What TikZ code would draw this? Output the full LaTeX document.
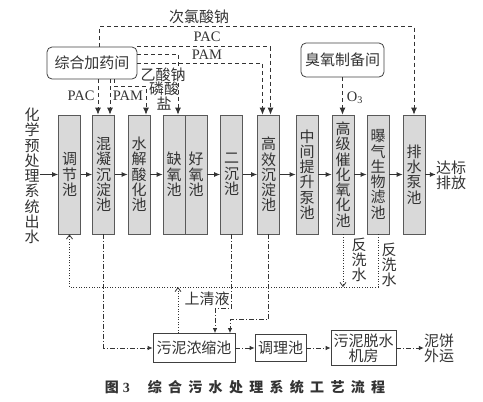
\documentclass[tikz,border=0pt]{standalone}
\usepackage{fontspec}
\setmainfont{Liberation Serif}
\newfontfamily\cjk{Noto Sans CJK SC}
\newfontfamily\capcjk{Noto Sans CJK SC}[LetterSpace=45]
\usetikzlibrary{arrows.meta}
\colorlet{ink}{black!80}

\begin{document}
\begin{tikzpicture}[x=1pt, y=-1pt,
  font=\cjk\fontsize{15}{15.3}\selectfont, >=Latex,
  every node/.style={text=ink},
  tank/.style={draw=black!65, fill=black!15, line width=0.8pt, inner sep=0pt,
               minimum width=22pt, minimum height=119pt, align=center},
  room/.style={draw=black!75, line width=0.8pt, rounded corners=5pt, inner sep=0pt,
               align=center},
  sbox/.style={draw=black!75, line width=0.8pt, inner sep=0pt, align=center},
  lbl/.style={inner sep=0pt, align=center},
  latin/.style={font=\rmfamily\fontsize{14.5}{15}\selectfont},
  flow/.style={draw=ink, line width=0.8pt, -{Latex[length=6pt,width=5pt]}},
  chem/.style={draw=ink, line width=0.8pt, dash pattern=on 4pt off 3pt,
               -{Latex[length=7pt,width=6pt]}},
  ret/.style={draw=ink, line width=0.8pt, dash pattern=on 1pt off 1.6pt},
  rettip/.style={-{Straight Barb[length=4pt,width=6pt]}},
  sludge/.style={draw=ink, line width=0.8pt, dash pattern=on 5pt off 2pt on 1pt off 2pt,
                 -{Latex[length=5pt,width=4.5pt]}}]
\useasboundingbox (0,0) rectangle (483,402);

% main line
\node[lbl] (feed) at (32,176) {化\\学\\预\\处\\理\\系\\统\\出\\水};
\node[tank] (t1) at (69.5,174.5) {调\\节\\池};
\node[tank] (t2) at (103.5,174.5) {混\\凝\\沉\\淀\\池};
\node[tank] (t3) at (139,174.5) {水\\解\\酸\\化\\池};
\node[tank] (t4) at (174,174.5) {缺\\氧\\池};
\node[tank] (t5) at (196,174.5) {好\\氧\\池};
\node[tank] (t6) at (231.5,174.5) {二\\沉\\池};
\node[tank] (t7) at (268.5,174.5) {高\\效\\沉\\淀\\池};
\node[tank] (t8) at (307,174.5) {中\\间\\提\\升\\泵\\池};
\node[tank] (t9) at (343,174.5) {高\\级\\催\\化\\氧\\化\\池};
\node[tank] (t10) at (378,174.5) {曝\\气\\生\\物\\滤\\池};
\node[tank] (t11) at (414,174.5) {排\\水\\泵\\池};
\node[lbl] (out) at (451,175) {达标\\排放};

\draw[flow] (feed.east |- t1.west) -- (t1.west);
\foreach \a/\b in {t1/t2,t2/t3,t3/t4,t5/t6,t6/t7,t7/t8,t8/t9,t9/t10,t10/t11}
  \draw[flow] (\a.east) -- (\b.west);
\draw[flow] (t11.east) -- (out.west |- t11.east);

% dosing
\node[room, minimum width=90pt, minimum height=32pt] (dose) at (92,63) {综合加药间};
\node[room, minimum width=83pt, minimum height=34pt] (ozone) at (342.5,60) {臭氧制备间};

\draw[chem] ([xshift=7pt]dose.north) -- ++(0,-20) -| (t11.north);
\draw[chem] (dose.north east) -| ([xshift=2pt]t7.north);
\draw[chem] (dose.east) -| ([xshift=-6pt]t7.north);
\draw[chem] ([yshift=9pt]dose.east) -| ([xshift=4pt]t4.north);
\draw[chem] ([xshift=-5.5pt]t2.north |- dose.south) -- ([xshift=-5.5pt]t2.north);
\draw[chem] ([xshift=6.5pt]t2.north |- dose.south) -- ([xshift=6.5pt]t2.north);
\draw[chem] ([xshift=22pt]dose.south) -- ++(0,7) -| ([xshift=7pt]t3.north);
\draw[chem] (ozone.south) -- (ozone.south |- t9.north);

\node[lbl] (naclo) at (199,17) {次氯酸钠};
\node[lbl, latin] (pac1) at (207,37) {PAC};
\node[lbl, latin] (pam1) at (207,55) {PAM};
\node[lbl, latin] (pac2) at (81,96) {PAC};
\node[lbl, latin] (pam2) at (128,96) {PAM};
\node[lbl, fill=white, inner sep=1pt] (naac) at (163,75) {乙酸钠};
\node[lbl] (phos) at (164,96) {磷酸\\盐};
\node[lbl, latin] (o3) at (355,98) {O\textsubscript{3}};

% sludge line
\node[sbox, minimum width=82pt, minimum height=29pt] (thick) at (194,348) {污泥浓缩池};
\node[sbox, minimum width=51pt, minimum height=27pt] (cond) at (280.5,348) {调理池};
\node[sbox, minimum width=65pt, minimum height=35pt] (dewat) at (363.5,348) {污泥脱水\\机房};
\node[lbl] (cake) at (439,348) {泥饼\\外运};

\draw[sludge] (t2.south) |- (thick.west);
\draw[sludge] (t6.south) -- ++(0,74) -| ([xshift=21pt]thick.north);
\draw[sludge] (t7.south) -- ++(0,85) -| ([xshift=36pt]thick.north);
\draw[sludge] (thick.east) -- (cond.west);
\draw[sludge] (cond.east) -- (dewat.west);
\draw[sludge] (dewat.east) -- (cake.west);

% return water
\coordinate (rety) at (0,287);
\draw[ret, rettip] (t10.south) -- (t10.south |- rety) -| (t1.south);
\draw[ret, rettip] (t9.south) -- (t9.south |- rety);
\draw[ret, rettip] ([xshift=-16pt]thick.north) -- ([xshift=-16pt]thick.north |- rety);

\node[lbl] (bw1) at (359,260) {反\\洗\\水};
\node[lbl] (bw2) at (389,265) {反\\洗\\水};
\node[lbl] (clear) at (207,299) {上清液};

\node[lbl, font=\fontsize{14}{14}\selectfont] (cap) at (245,387)
  {{\capcjk\bfseries 图}\hspace{4pt}{\rmfamily\bfseries 3}\hspace{18pt}{\capcjk\bfseries 综合污水处理系统工艺流程}};
\end{tikzpicture}
\end{document}
